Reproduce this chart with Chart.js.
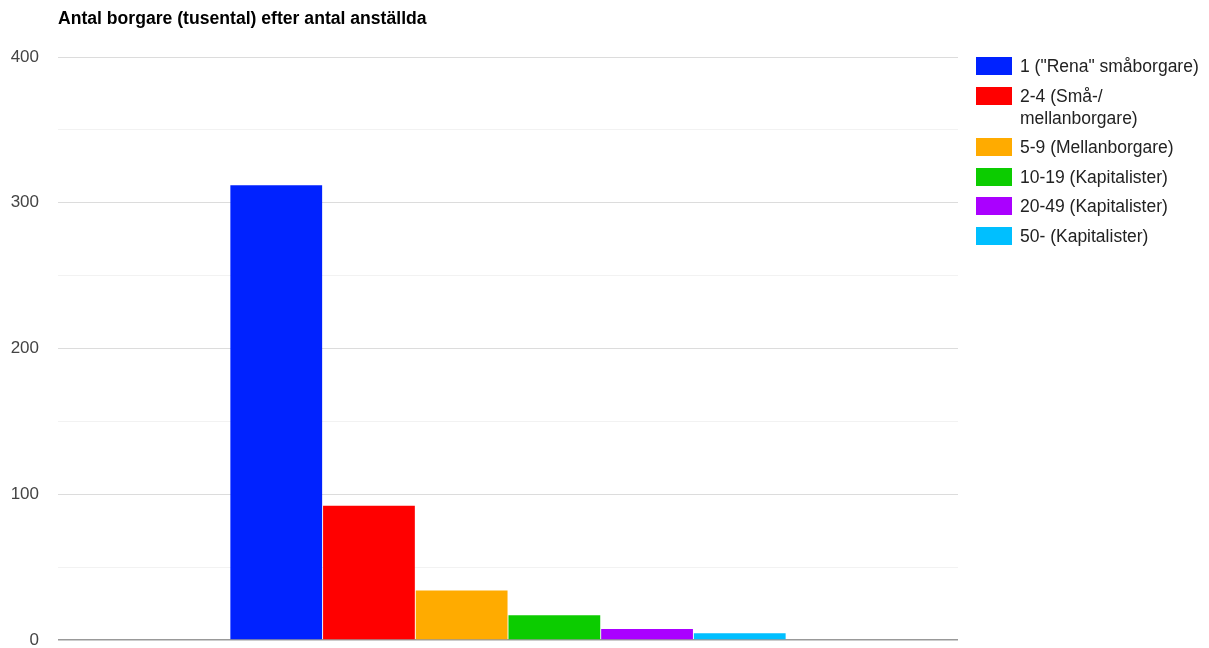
<!DOCTYPE html>
<html lang="sv">
<head>
<meta charset="utf-8">
<title>Antal borgare (tusental) efter antal anställda</title>
<script src="https://cdn.jsdelivr.net/npm/chart.js@4/dist/chart.umd.min.js"></script>
<style>
    html, body { margin: 0; padding: 0; background: #fff; overflow: hidden; }
    #wrap { position: relative; width: 1209px; height: 648px; font-family: Arial, "Liberation Sans", sans-serif; }
    #chart { position: absolute; left: 0; top: 0; }
    #titel { position: absolute; left: 58px; top: 8px; font-size: 17.6px; font-weight: bold; color: #000; }
    #legend { position: absolute; left: 976px; top: 55px; margin: 0; padding: 0; list-style: none; }
    #legend li { display: flex; align-items: flex-start; margin-bottom: 7.5px; font-size: 17.5px; color: #222; line-height: 22px; }
    #legend .box { width: 36px; height: 18px; margin-right: 8px; margin-top: 2px; flex: none; }
    #legend .txt { white-space: pre-line; }
</style>
</head>
<body>
<div id="wrap">
    <canvas id="chart" width="1209" height="648"></canvas>
    <div id="titel">Antal borgare (tusental) efter antal anställda</div>
    <ul id="legend"></ul>
</div>
<script>
// Data
const kategorier = [''];
const serier = ['1 ("Rena" småborgare)', '2-4 (Små-/\nmellanborgare)', '5-9 (Mellanborgare)', '10-19 (Kapitalister)', '20-49 (Kapitalister)', '50- (Kapitalister)'];
const varden = [312, 92, 34, 17, 7.5, 4.5];
const farger = ['#0022ff', '#ff0000', '#ffab00', '#0ccc00', '#aa00ff', '#00bfff'];
const yTicks = [0, 100, 200, 300, 400];

// Legend i HTML (Google-stil med radbrytning)
function byggLegend() {
    const ul = document.getElementById('legend');
    serier.forEach((namn, i) => {
        const li = document.createElement('li');
        const box = document.createElement('span');
        box.className = 'box';
        box.style.background = farger[i];
        const txt = document.createElement('span');
        txt.className = 'txt';
        txt.textContent = namn;
        li.appendChild(box);
        li.appendChild(txt);
        ul.appendChild(li);
    });
}

function byggDiagram() {
    const ctx = document.getElementById('chart').getContext('2d');
    new Chart(ctx, {
        type: 'bar',
        data: {
            labels: kategorier,
            datasets: serier.map((namn, i) => ({
                label: namn,
                data: [varden[i]],
                backgroundColor: farger[i],
                borderWidth: 0,
                categoryPercentage: 0.618,
                barPercentage: 0.99
            }))
        },
        options: {
            responsive: false,
            animation: false,
            layout: {
                padding: { top: 57, bottom: 8, left: 0, right: 251 }
            },
            plugins: {
                legend: { display: false },
                title: { display: false },
                tooltip: { enabled: false }
            },
            scales: {
                x: { display: false },
                y: {
                    min: 0,
                    max: 400,
                    ticks: {
                        stepSize: 50,
                        padding: 0,
                        color: '#444',
                        font: { family: 'Arial, "Liberation Sans", sans-serif', size: 17, lineHeight: 0.95 },
                        callback: v => yTicks.includes(v) ? v : ''
                    },
                    grid: {
                        drawTicks: true,
                        tickLength: 19,
                        tickColor: 'rgba(0,0,0,0)',
                        color: c => c.tick.value === 0 ? '#999' : (c.tick.value % 100 === 0 ? '#dcdcdc' : '#f2f2f2'),
                        lineWidth: c => c.tick.value === 0 ? 1.5 : 1
                    },
                    border: { display: false },
                    afterFit: scale => { scale.width = 58; }
                }
            }
        }
    });
}

byggLegend();
byggDiagram();
</script>
</body>
</html>
